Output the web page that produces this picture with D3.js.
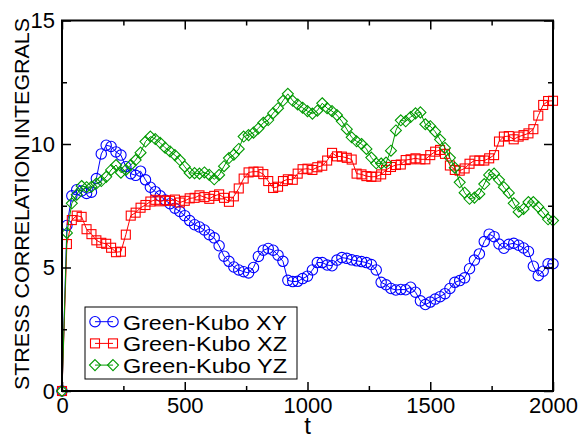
<!DOCTYPE html>
<html>
<head>
<meta charset="utf-8">
<script src="https://cdn.jsdelivr.net/npm/d3@7"></script>
<style>
  html, body { margin: 0; padding: 0; background: #fff; }
  svg { display: block; }
</style>
</head>
<body>
<svg id="chart" width="578" height="435"></svg>
<script>
// Time grid of the integrals (every 20 time units)
const timeStep = 20;
const timeMax = 2000;

// Green-Kubo stress correlation integrals per component
const seriesXY = [
  0, 6.7, 7.9, 8.15, 8.1, 8.0, 8.05, 8.6, 9.6, 9.95,
  9.9, 9.68, 9.55, 9.08, 8.8, 8.73, 8.9, 8.55, 8.25, 8.07,
  7.9, 7.73, 7.58, 7.4, 7.27, 7.1, 6.9, 6.73, 6.64, 6.52,
  6.33, 6.2, 5.88, 5.46, 5.25, 5.02, 4.9, 4.83, 4.78, 5.0,
  5.45, 5.7, 5.77, 5.7, 5.5, 5.25, 4.48, 4.43, 4.44, 4.55,
  4.65, 4.9, 5.2, 5.2, 5.1, 5.07, 5.3, 5.4, 5.37, 5.31,
  5.27, 5.24, 5.2, 5.12, 4.9, 4.4, 4.3, 4.15, 4.09, 4.11,
  4.1, 4.2, 4.0, 3.65, 3.5, 3.6, 3.72, 3.82, 3.94, 4.15,
  4.4, 4.47, 4.58, 4.95, 5.3, 5.55, 6.05, 6.35, 6.25, 5.95,
  5.78, 5.94, 5.98, 5.9, 5.79, 5.65, 5.05, 4.67, 4.85, 5.15,
  5.15
];
const seriesXZ = [
  0, 5.95, 6.92, 7.1, 7.05, 6.55, 6.35, 6.1, 6.0, 5.96,
  5.8, 5.62, 5.64, 6.33, 7.1, 7.22, 7.42, 7.53, 7.67, 7.74,
  7.68, 7.72, 7.7, 7.75, 7.63, 7.7, 7.8, 7.82, 7.92, 7.85,
  7.78, 7.9, 7.96, 7.82, 7.66, 7.88, 8.2, 8.6, 8.85, 8.88,
  8.88, 8.78, 8.5, 8.22, 8.27, 8.5, 8.57, 8.55, 8.8, 8.98,
  9.0, 8.95, 9.06, 9.12, 9.33, 9.64, 9.5, 9.49, 9.44, 9.37,
  8.8, 8.77, 8.7, 8.67, 8.68, 8.77, 8.95, 9.07, 9.15, 9.17,
  9.35, 9.38, 9.42, 9.38, 9.38, 9.55, 9.69, 9.76, 9.6, 9.13,
  8.95, 8.92, 9.01, 9.2, 9.33, 9.33, 9.33, 9.42, 9.55, 10.1,
  10.3, 10.32, 10.19, 10.3, 10.36, 10.43, 10.6, 11.15, 11.58, 11.74,
  11.75
];
const seriesYZ = [
  0, 6.4, 7.6, 7.95, 8.3, 8.25, 8.27, 8.4, 8.5, 8.67,
  8.95, 9.15, 8.84, 8.95, 9.15, 9.35, 9.65, 10.1, 10.3, 10.2,
  10.05, 9.85, 9.7, 9.55, 9.35, 9.08, 8.83, 8.82, 8.8, 8.85,
  8.75, 8.57, 8.75, 9.1, 9.43, 9.57, 9.8, 10.3, 10.36, 10.46,
  10.63, 10.86, 10.97, 11.25, 11.45, 11.75, 12.03, 11.75, 11.6, 11.47,
  11.33, 11.23, 11.35, 11.65, 11.45, 11.33, 11.17, 10.92, 10.6, 10.27,
  10.11, 10.0, 9.8, 9.45, 9.22, 9.21, 9.25, 9.73, 10.55, 10.96,
  10.92, 11.09, 11.24, 11.28, 10.8, 10.72, 10.5, 10.18, 9.84, 9.44,
  9.04, 8.45, 8.03, 7.78, 7.83, 7.98, 8.38, 8.75, 8.8, 8.55,
  8.25, 8.02, 7.6, 7.25, 7.37, 7.65, 7.65, 7.45, 7.22, 6.95,
  6.9
];

const seriesNames = ["Green-Kubo XY", "Green-Kubo XZ", "Green-Kubo YZ"];
const xMajorTicks = [0, 500, 1000, 1500, 2000];
const xMinorTicks = [250, 750, 1250, 1750];
const yMajorTicks = [0, 5, 10, 15];
const yMinorTicks = [2.5, 7.5, 12.5];
const xTitle = "t";
const yTitle = "STRESS CORRELATION INTEGRALS";

const times = d3.range(0, timeMax + timeStep / 2, timeStep);

const series = [
  { name: seriesNames[0], values: seriesXY, color: "#0000ff", symbol: "circle" },
  { name: seriesNames[1], values: seriesXZ, color: "#ff0000", symbol: "square" },
  { name: seriesNames[2], values: seriesYZ, color: "#009a00", symbol: "diamond" }
];

const font = "'Liberation Sans', Arial, Helvetica, sans-serif";

const plot = { left: 62, right: 553, top: 20.5, bottom: 391 };
const x = d3.scaleLinear().domain([0, timeMax]).range([plot.left, plot.right]);
const y = d3.scaleLinear().domain([0, 15]).range([plot.bottom, plot.top]);

const svg = d3.select("#chart");

// Draws one symbol of the given kind centred at (cx, cy)
function drawSymbol(g, kind, cx, cy, color) {
  if (kind === "circle") {
    g.append("circle").attr("cx", cx).attr("cy", cy).attr("r", 5.2)
      .attr("fill", "none").attr("stroke", color).attr("stroke-width", 1.1);
  } else if (kind === "square") {
    const s = 9;
    g.append("rect").attr("x", cx - s / 2).attr("y", cy - s / 2)
      .attr("width", s).attr("height", s)
      .attr("fill", "none").attr("stroke", color).attr("stroke-width", 1.1);
  } else {
    const h = 5.5;
    g.append("path")
      .attr("d", `M${cx},${cy - h}L${cx + h},${cy}L${cx},${cy + h}L${cx - h},${cy}Z`)
      .attr("fill", "none").attr("stroke", color).attr("stroke-width", 1.1);
  }
}

// Series lines and markers
const line = d3.line().x((d, i) => x(times[i])).y(d => y(d));
series.forEach(s => {
  const g = svg.append("g");
  g.append("path").datum(s.values).attr("d", line)
    .attr("fill", "none").attr("stroke", s.color).attr("stroke-width", 1);
  s.values.forEach((v, i) => drawSymbol(g, s.symbol, x(times[i]), y(v), s.color));
});

// Axes with inward ticks on all four sides
const tickFont = 22;
function styleAxis(g) {
  g.attr("font-family", font).attr("font-size", tickFont);
  g.select(".domain").remove();
  g.selectAll(".tick line").attr("stroke", "#000").attr("stroke-width", 1.5);
  g.selectAll(".tick text").attr("fill", "#000");
}
const major = 9, minor = 5;
svg.append("g").attr("transform", `translate(0,${plot.bottom})`)
  .call(d3.axisBottom(x).tickValues(xMajorTicks).tickSize(-major).tickPadding(6).tickFormat(d3.format("d")))
  .call(styleAxis);
svg.append("g").attr("transform", `translate(0,${plot.bottom})`)
  .call(d3.axisBottom(x).tickValues(xMinorTicks).tickSize(-minor).tickFormat(""))
  .call(styleAxis);
svg.append("g").attr("transform", `translate(0,${plot.top})`)
  .call(d3.axisTop(x).tickValues(xMajorTicks).tickSize(-major).tickFormat(""))
  .call(styleAxis);
svg.append("g").attr("transform", `translate(0,${plot.top})`)
  .call(d3.axisTop(x).tickValues(xMinorTicks).tickSize(-minor).tickFormat(""))
  .call(styleAxis);
svg.append("g").attr("transform", `translate(${plot.left},0)`)
  .call(d3.axisLeft(y).tickValues(yMajorTicks).tickSize(-major).tickPadding(7).tickFormat(d3.format("d")))
  .call(styleAxis);
svg.append("g").attr("transform", `translate(${plot.left},0)`)
  .call(d3.axisLeft(y).tickValues(yMinorTicks).tickSize(-minor).tickFormat(""))
  .call(styleAxis);
svg.append("g").attr("transform", `translate(${plot.right},0)`)
  .call(d3.axisRight(y).tickValues(yMajorTicks).tickSize(-major).tickFormat(""))
  .call(styleAxis);
svg.append("g").attr("transform", `translate(${plot.right},0)`)
  .call(d3.axisRight(y).tickValues(yMinorTicks).tickSize(-minor).tickFormat(""))
  .call(styleAxis);

// Frame
svg.append("rect")
  .attr("x", plot.left).attr("y", plot.top)
  .attr("width", plot.right - plot.left).attr("height", plot.bottom - plot.top)
  .attr("fill", "none").attr("stroke", "#000").attr("stroke-width", 2);

// Axis titles
svg.append("text").attr("x", (plot.left + plot.right) / 2).attr("y", 434)
  .attr("text-anchor", "middle").attr("font-family", font)
  .attr("font-size", 24).text(xTitle);
svg.append("text")
  .attr("transform", `translate(28.5,204) rotate(-90)`)
  .attr("text-anchor", "middle").attr("font-family", font)
  .attr("font-size", 21)
  .attr("textLength", 372).attr("lengthAdjust", "spacingAndGlyphs")
  .text(yTitle);

// Legend
const legend = svg.append("g");
legend.append("rect").attr("x", 85).attr("y", 307).attr("width", 212).attr("height", 72)
  .attr("fill", "#fff").attr("stroke", "#000").attr("stroke-width", 1);
series.forEach((s, i) => {
  const cy = 321.7 + i * 21.7;
  legend.append("line").attr("x1", 95).attr("x2", 113).attr("y1", cy).attr("y2", cy)
    .attr("stroke", s.color).attr("stroke-width", 1);
  drawSymbol(legend, s.symbol, 95, cy, s.color);
  drawSymbol(legend, s.symbol, 113, cy, s.color);
  legend.append("text").attr("x", 123).attr("y", cy + 7.8)
    .attr("font-family", font).attr("font-size", 21)
    .attr("textLength", 164).attr("lengthAdjust", "spacingAndGlyphs")
    .text(s.name);
});
</script>
</body>
</html>
